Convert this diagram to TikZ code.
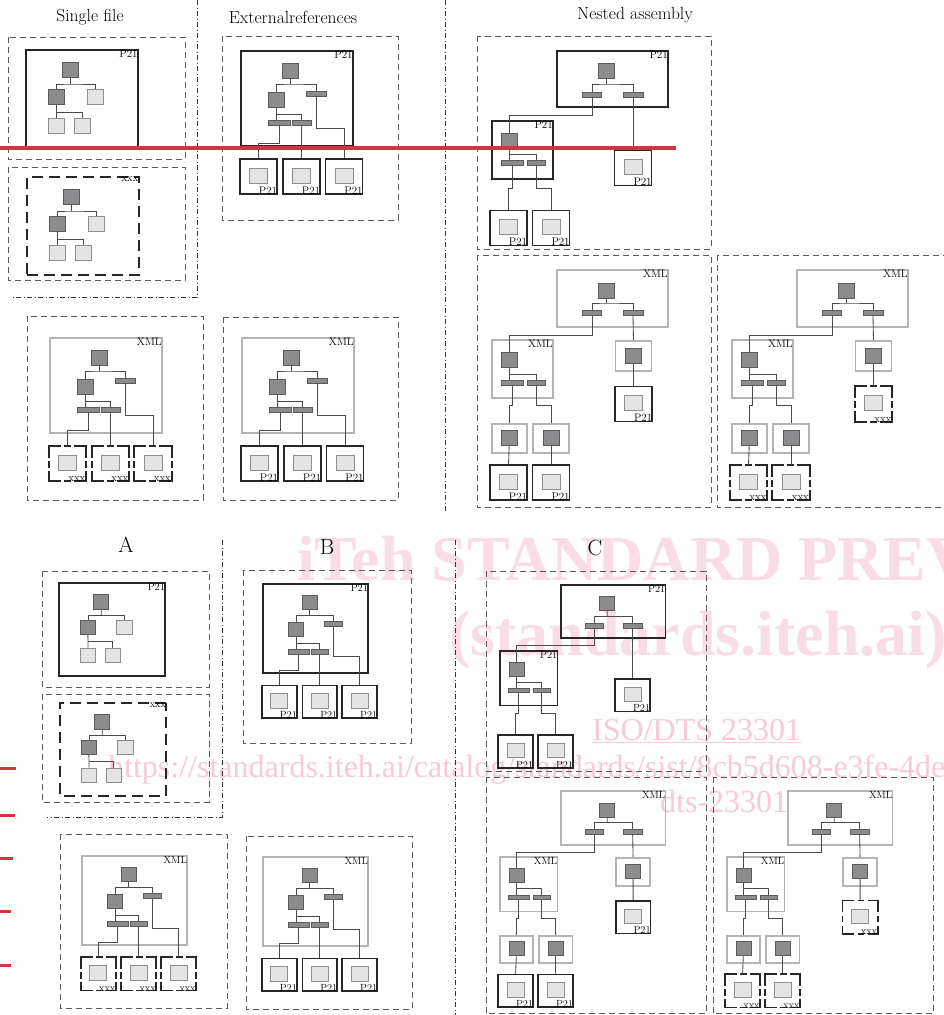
\documentclass[tikz,border=0pt]{standalone}
\usepackage{fontspec}
\newfontfamily\wmfont{Liberation Serif}
\usetikzlibrary{calc}
\definecolor{dkfill}{HTML}{8C8C8E}
\definecolor{dkdraw}{HTML}{5A5A5A}
\definecolor{ltfill}{HTML}{E4E4E4}
\definecolor{ltdraw}{HTML}{8E8E8E}
\definecolor{xmlgray}{HTML}{B4B4B4}
\definecolor{boxblack}{HTML}{262626}
\definecolor{connc}{HTML}{4A4A4A}
\definecolor{cframe}{HTML}{5A5A5A}
\definecolor{wmpink}{HTML}{FADCE5}
\definecolor{wmpinkb}{HTML}{F6CAD6}
\definecolor{redmark}{HTML}{D2363C}
\tikzset{
  dsq/.style={rectangle,inner sep=0pt,minimum width=16pt,minimum height=15pt,fill=dkfill,draw=dkdraw,line width=0.9pt},
  lsq/.style={rectangle,inner sep=0pt,minimum width=16pt,minimum height=15pt,fill=ltfill,draw=ltdraw,line width=0.9pt},
  barn/.style={rectangle,inner sep=0pt,minimum width=20pt,minimum height=5pt,fill=dkfill,draw=dkdraw,line width=0.7pt},
  p21box/.style={rectangle,inner sep=0pt,draw=boxblack,line width=1.8pt},
  xmlbox/.style={rectangle,inner sep=0pt,draw=xmlgray,line width=1.8pt},
  xxxbig/.style={rectangle,inner sep=0pt,draw=boxblack,line width=1.8pt,dash pattern=on 11pt off 6pt},
  xxxsmall/.style={rectangle,inner sep=0pt},
  xxxside/.style={draw=boxblack,line width=1.8pt,line cap=rect,dash pattern=on 11pt off 5pt on 5pt off 5pt on 11pt off 5pt},
  conn/.style={draw=connc,line width=0.85pt},
  panelframe/.style={draw=cframe,line width=0.9pt,dash pattern=on 6pt off 4pt},
  ddline/.style={draw=black!80,line width=0.7pt,dash pattern=on 5pt off 2.5pt on 1pt off 2.5pt},
  lbl/.style={font=\fontsize{11}{12}\selectfont,inner sep=1pt,text=black},
  ttl/.style={font=\fontsize{17.5}{19}\selectfont,inner sep=0pt},
  abc/.style={font=\fontsize{22}{24}\selectfont,inner sep=0pt},
  wmbig/.style={font={\wmfont\bfseries\fontsize{64}{70}\selectfont},text=wmpink,inner sep=0pt,anchor=base west},
  wmsmall/.style={font={\wmfont\fontsize{32}{34}\selectfont},text=wmpinkb,inner sep=0pt,anchor=base west},
}
% small dashed frame of an xxx leaf
\newcommand{\xxxframe}[1]{%
  \draw[xxxside] (#1.north west) -- (#1.north east);
  \draw[xxxside] (#1.north east) -- (#1.south east);
  \draw[xxxside] (#1.north west) -- (#1.south west);
  \draw[xxxside] (#1.south west) -- (#1.south east);}
\newcommand{\leafP}[3]{%
  \node[p21box,minimum width=37pt,minimum height=35pt] (#1) at (#2,#3) {};
  \node[lsq,minimum width=18pt] (#1i) at (#2,#3-1) {};
  \node[lbl,anchor=south east,inner sep=0.6pt] (#1l) at (#1.south east) {P21};}
\newcommand{\leafX}[3]{%
  \node[xxxsmall,minimum width=37pt,minimum height=35pt] (#1) at (#2,#3) {};
  \xxxframe{#1}
  \node[lsq,minimum width=18pt] (#1i) at (#2,#3-1) {};
  \node[lbl,anchor=south east,inner sep=0.6pt,yshift=-1.5pt] (#1l) at (#1.south east) {xxx};}
% single file tree
\newcommand{\SinglePanel}[6]{%
\begin{scope}[shift={(#2,#3)},scale=#4,transform shape,name prefix=#1-]
 \node[#5,minimum width=112pt,minimum height=98pt,anchor=north west] (box) at (0,0) {};
 \node[lbl,anchor=north east] (boxl) at (box.north east) {#6};
 \node[dsq] (t) at (45.5,21) {};
 \node[dsq] (a) at (31.5,48) {};
 \node[lsq] (b) at (70,48) {};
 \node[lsq] (c) at (31.5,77) {};
 \node[lsq] (d) at (57.5,77) {};
 \coordinate (j1) at (45.5,35);
 \coordinate (j2) at (31.5,63);
 \draw[conn] (t) -- (j1);
 \draw[conn] (a.north) |- (j1) -| (b.north);
 \draw[conn] (a) -- (c);
 \draw[conn] (j2) -| (d.north);
\end{scope}}
% external references tree
\newcommand{\ExtPanel}[7]{%
\begin{scope}[shift={(#2,#3)},scale=#4,transform shape,name prefix=#1-]
 \node[#5,minimum width=112pt,minimum height=95pt,anchor=north west] (box) at (0,0) {};
 \node[lbl,anchor=north east] (boxl) at (box.north east) {#6};
 \node[dsq] (t) at (50.5,20.5) {};
 \node[dsq] (a) at (36.5,49.5) {};
 \node[barn] (r) at (76,43.5) {};
 \node[barn,minimum width=22pt] (b1) at (39,73) {};
 \node[barn,minimum width=19pt] (b2) at (61.5,73) {};
 \coordinate (j1) at (50.5,34);
 \coordinate (j2) at (36.5,64);
 \coordinate (k1) at (39,93);
 \coordinate (k3) at (76,78);
 #7{c1}{18.5}{126.5}
 #7{c2}{61.5}{126.5}
 #7{c3}{104}{126.5}
 \draw[conn] (t) -- (j1);
 \draw[conn] (a.north) |- (j1) -| (r.north);
 \draw[conn] (a.south) -- (a.south |- b1.north);
 \draw[conn] (j2) -| (b2.north);
 \draw[conn] (b1.south) -- (k1) -| (c1.north);
 \draw[conn] (b2.south) -- (c2.north);
 \draw[conn] (r.south) -- (k3) -| (c3.north);
\end{scope}}
% nested assembly, P21 only
\newcommand{\NestedP}[4]{%
\begin{scope}[shift={(#2,#3)},scale=#4,transform shape,name prefix=#1-]
 \draw[panelframe] (0,0) rectangle (234,213);
 \node[p21box,minimum width=111pt,minimum height=56pt] (top) at (135.5,43) {};
 \node[lbl,anchor=north east] (topl) at (top.north east) {P21};
 \node[dsq] (t) at (129,34.5) {};
 \node[barn,minimum width=19pt] (u1) at (115,58.5) {};
 \node[barn] (u2) at (156,58.5) {};
 \coordinate (j) at (129,48);
 \coordinate (k) at (115,79);
 \node[p21box,minimum width=61pt,minimum height=58pt] (mid) at (45.5,114) {};
 \node[lbl,anchor=north east] (midl) at (mid.north east) {P21};
 \node[dsq] (m) at (32.5,104.5) {};
 \node[barn,minimum width=22pt] (v1) at (35,127) {};
 \node[barn,minimum width=18pt] (v2) at (59,127) {};
 \coordinate (mj) at (32.5,118);
 \coordinate (q1) at (35,152);
 \coordinate (q2) at (59,152);
 \leafP{n1}{31.5}{192}
 \leafP{n2}{74}{192}
 \leafP{nr}{156}{132}
 \draw[conn] (t) -- (j);
 \draw[conn] (u1.north) |- (j) -| (u2.north);
 \draw[conn] (u1.south) -- (k) -| (m.north);
 \draw[conn] (m.south) -- (m.south |- v1.north);
 \draw[conn] (mj) -| (v2.north);
 \draw[conn] (v1.south) -- (q1) -| (n1.north);
 \draw[conn] (v2.south) -- (q2) -| (n2.north);
 \draw[conn] (u2.south) -- (nr.north);
\end{scope}}
% nested assembly, XML
\newcommand{\NestedX}[5]{%
\begin{scope}[shift={(#2,#3)},scale=#4,transform shape,name prefix=#1-]
 \draw[panelframe] (0,0) rectangle (234,252);
 \node[xmlbox,minimum width=111pt,minimum height=57pt] (top) at (135.5,43.5) {};
 \node[lbl,anchor=north east] (topl) at (top.north east) {XML};
 \node[dsq] (t) at (129,35.5) {};
 \node[barn,minimum width=19pt] (u1) at (115,58) {};
 \node[barn] (u2) at (156,58) {};
 \coordinate (j) at (129,48);
 \coordinate (k) at (115,80);
 \node[xmlbox,minimum width=61pt,minimum height=58pt] (mid) at (45.5,114) {};
 \node[lbl,anchor=north east] (midl) at (mid.north east) {XML};
 \node[dsq] (m) at (32.5,105) {};
 \node[barn,minimum width=22pt] (v1) at (35,128) {};
 \node[barn,minimum width=18pt] (v2) at (59,128) {};
 \coordinate (mj) at (32.5,119);
 \coordinate (q1) at (35,150);
 \coordinate (q2) at (59,150);
 \node[xmlbox,minimum width=35pt,minimum height=29pt] (g1) at (32.5,183.5) {};
 \node[dsq] (gd1) at (32.5,182.5) {};
 \node[xmlbox,minimum width=36pt,minimum height=29pt] (g2) at (74,183.5) {};
 \node[dsq] (gd2) at (74,182.5) {};
 \node[xmlbox,minimum width=36pt,minimum height=30pt] (gr) at (156.5,101) {};
 \node[dsq] (grd) at (156.5,100.5) {};
 #5{n1}{31.5}{227.5}
 #5{n2}{74}{227.5}
 #5{nr}{156.5}{149}
 \draw[conn] (t) -- (j);
 \draw[conn] (u1.north) |- (j) -| (u2.north);
 \draw[conn] (u1.south) -- (k) -| (m.north);
 \draw[conn] (m.south) -- (m.south |- v1.north);
 \draw[conn] (mj) -| (v2.north);
 \draw[conn] (v1.south) -- (q1) -| (g1.north);
 \draw[conn] (v2.south) -- (q2) -| (g2.north);
 \draw[conn] (gd1) -- (n1.north);
 \draw[conn] (gd2) -- (n2.north);
 \draw[conn] (u2.south) -- (gr.north);
 \draw[conn] (grd) -- (nr.north);
\end{scope}}
\begin{document}
\begin{tikzpicture}[x=1pt,y=-1pt]
\useasboundingbox (0,0) rectangle (944,1015);
\fill[white] (0,0) rectangle (944,1015);
% watermark
\node[wmbig] (wm1) at (297,580) {iTeh STANDARD PREVIEW};
\node[wmbig] (wm2) at (449,655) {(standards.iteh.ai)};
\node[wmsmall] (wm3) at (592,740) {\underline{ISO/DTS 23301}};
\node[wmsmall] (wm4) at (108,777) {https://standards.iteh.ai/catalog/standards/sist/8cb5d608-e3fe-4de};
\node[wmsmall] (wm5) at (660,812) {dts-23301};
% titles
\node[ttl] (ts) at (90,17) {Single file};
\node[ttl] (te) at (293,17) {Externalreferences};
\node[ttl] (tn) at (635,15) {Nested assembly};
\node[abc] (la) at (126,545) {A};
\node[abc] (lb) at (327,547) {B};
\node[abc] (lc) at (595,548) {C};
% dash-dot separators
\draw[ddline] (197,0) -- (197,297) -- (13,297);
\draw[ddline] (445,0) -- (445,511);
\draw[ddline] (222,540) -- (222,817) -- (47,817);
\draw[ddline] (455,540) -- (455,1015);
% outer dashed frames
\draw[panelframe] (8,37) rectangle (185,159);
\draw[panelframe] (8,167) rectangle (185,280);
\draw[panelframe] (222,36) rectangle (398,220);
\draw[panelframe] (27,316) rectangle (203,500);
\draw[panelframe] (223,317) rectangle (398,500);
\draw[panelframe] (42,571) rectangle (209,687);
\draw[panelframe] (42,694) rectangle (209,802);
\draw[panelframe] (243,570) rectangle (411,743);
\draw[panelframe] (60,834) rectangle (227,1008);
\draw[panelframe] (246,836) rectangle (412,1009);
% top half
\SinglePanel{s1}{25}{49}{1}{p21box}{P21}
\SinglePanel{s2}{26}{176}{1}{xxxbig}{xxx}
\ExtPanel{e1}{240}{50}{1}{p21box}{P21}{\leafP}
\ExtPanel{e2}{49}{337}{1}{xmlbox}{XML}{\leafX}
\ExtPanel{e3}{241}{337}{1}{xmlbox}{XML}{\leafP}
\NestedP{n1}{477}{36}{1}
\NestedX{n2}{477}{255}{1}{\leafP}
\NestedX{n3}{717}{255}{1}{\leafX}
% bottom half
\SinglePanel{s3}{58}{582}{0.95}{p21box}{P21}
\SinglePanel{s4}{59}{702}{0.95}{xxxbig}{xxx}
\ExtPanel{e4}{262}{583}{0.94}{p21box}{P21}{\leafP}
\ExtPanel{e5}{81}{855}{0.94}{xmlbox}{XML}{\leafX}
\ExtPanel{e6}{262}{856}{0.94}{xmlbox}{XML}{\leafP}
\NestedP{n4}{486}{571}{0.94}
\NestedX{n5}{486}{777}{0.94}{\leafP}
\NestedX{n6}{713}{777}{0.94}{\leafX}
% red marks
\draw[redmark,line width=4pt] (0,148) -- (676,148);
\draw[redmark,line width=3pt] (0,768) -- (16,768);
\draw[redmark,line width=3pt] (0,815) -- (15,815);
\draw[redmark,line width=3pt] (0,858) -- (13,858);
\draw[redmark,line width=3pt] (0,911) -- (11,911);
\draw[redmark,line width=3pt] (0,965) -- (11,965);
\end{tikzpicture}
\end{document}
